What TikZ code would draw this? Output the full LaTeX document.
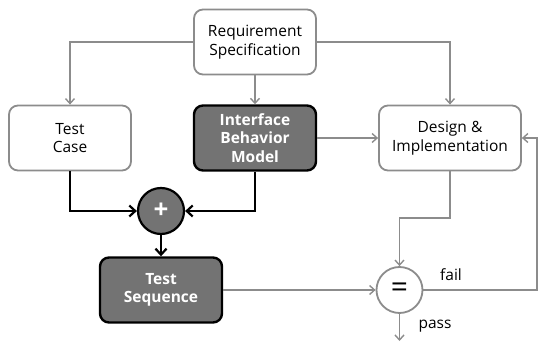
\documentclass[tikz,border=0pt]{standalone}
\usepackage{fontspec}
\setmainfont{Open Sans}
\usetikzlibrary{arrows.meta}
\definecolor{lgray}{HTML}{8C8C8C}
\definecolor{dgray}{HTML}{737373}
\tikzset{
  lightbox/.style={draw=lgray, line width=1.8pt, rounded corners=9pt, fill=white, minimum width=122pt, minimum height=65pt, align=center, font=\fontsize{15.5}{18.5}\selectfont},
  darkbox/.style={draw=black, line width=2.4pt, rounded corners=9pt, fill=dgray, text=white, minimum width=122pt, minimum height=65pt, align=center, font=\fontsize{15.5}{18.5}\selectfont\bfseries},
  garrow/.style={draw=lgray, line width=1.4pt, -{Straight Barb[length=5pt,width=9pt]}},
  barrow/.style={draw=black, line width=2.2pt, -{Straight Barb[length=6pt,width=11pt]}},
  lbl/.style={font=\fontsize{15.5}{18.5}\selectfont, text=black}
}
\begin{document}
\begin{tikzpicture}[x=1pt,y=-1pt]
\useasboundingbox (0,0) rectangle (539,342);
\node[lightbox] (req) at (255,42) {Requirement\\Specification};
\node[lightbox] (tc) at (70,138) {Test\\Case};
\node[darkbox] (ibm) at (255,138) {Interface\\Behavior\\Model};
\node[lightbox, minimum width=142pt] (di) at (450,138) {Design \&\\Implementation};
\node[circle, draw=black, line width=2.2pt, fill=dgray, minimum size=46pt, inner sep=0pt, text=white, font=\fontsize{26}{26}\selectfont\bfseries] (plus) at (161,211) {+};
\node[darkbox] (ts) at (161,290) {Test\\Sequence};
\node[circle, draw=lgray, line width=1.8pt, fill=white, minimum size=46pt, inner sep=0pt, font=\fontsize{30}{30}\selectfont] (eq) at (399.5,290) {=};
\coordinate (passend) at (399.5,341);
\coordinate (failc) at (537,290);
\node[lbl] (fail) at (451,275) {fail};
\node[lbl] (pass) at (435,326) {pass};

\draw[garrow] (req.west) -| (tc.north);
\draw[garrow] (req.east) -| (di.north);
\draw[garrow] (req.south) -- (ibm.north);
\draw[garrow] (ibm.east) -- (di.west);
\draw[barrow] (tc.south) |- (plus.west);
\draw[barrow] (ibm.south) |- (plus.east);
\draw[barrow] (plus.south) -- (ts.north);
\draw[garrow] (ts.east) -- (eq.west);
\draw[garrow] (di.south) -- (450,218) -| (eq.north);
\draw[garrow] (eq.east) -- (failc) |- (di.east);
\draw[garrow] (eq.south) -- (passend);
\end{tikzpicture}
\end{document}
